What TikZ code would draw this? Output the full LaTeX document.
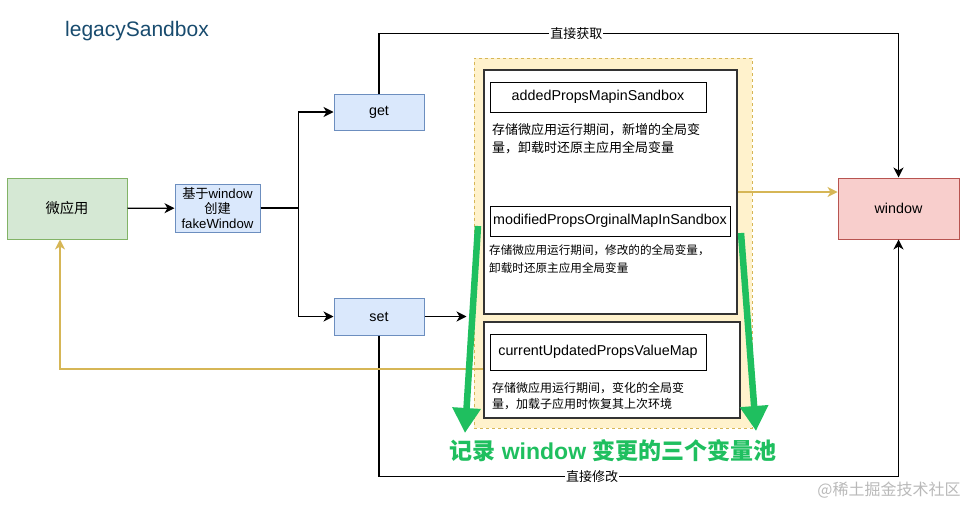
\documentclass[tikz,border=0pt]{standalone}
\usepackage{fontspec}
\setmainfont{Liberation Sans}
\newfontfamily\cjk{Noto Sans CJK SC}
\usepackage{tikz}
\usetikzlibrary{arrows.meta, positioning, calc}
\usepackage{xcolor}
\definecolor{greenfill}{HTML}{D5E8D4}
\definecolor{greenline}{HTML}{82B366}
\definecolor{bluefill}{HTML}{DAE8FC}
\definecolor{blueline}{HTML}{6C8EBF}
\definecolor{redfill}{HTML}{F8CECC}
\definecolor{redline}{HTML}{B85450}
\definecolor{yellowfill}{HTML}{FFF2CC}
\definecolor{yellowline}{HTML}{D6B656}
\definecolor{poolgreen}{HTML}{1FBF5F}
\definecolor{titleblue}{HTML}{184B6E}

\begin{document}
\begin{tikzpicture}[x=1pt, y=-1pt,
    base/.style={rectangle, draw, inner sep=0pt, align=center, font=\fontsize{14.3}{16}\selectfont, line width=1pt},
    app/.style={base, fill=greenfill, draw=greenline, minimum width=120pt, minimum height=61pt},
    op/.style={base, fill=bluefill, draw=blueline, minimum width=90pt, minimum height=36pt},
    win/.style={base, fill=redfill, draw=redline, minimum width=121pt, minimum height=61pt},
    pool/.style={base, fill=yellowfill, draw=yellowline, dashed, minimum width=278pt, minimum height=370pt},
    panel/.style={base, fill=white, draw=black!80, line width=1.2pt},
    mapbox/.style={base, fill=white, draw=black, minimum height=30pt},
    note/.style={inner sep=0pt, align=left, anchor=north west},
    flow/.style={draw, line width=1.2pt, -{Stealth[length=10pt, width=10pt, inset=3pt]}},
    gold/.style={draw=yellowline, line width=1.2pt, -{Stealth[length=10pt, width=10pt, inset=3pt]}},
    poolarrow/.style={draw=poolgreen, line width=6.5pt, -{Triangle[length=25pt, width=27pt]}},
    edgelabel/.style={fill=white, inner sep=1pt, font=\cjk\fontsize{13}{15}\selectfont}
]
    \useasboundingbox (0,0) rectangle (974,506);

    % Nodes
    \node[text=titleblue, font=\fontsize{21}{24}\selectfont] (title) at (137,31) {legacySandbox};
    \node[app] (micro) at (67,208.5) {{\cjk 微应用}};
    \node[op, minimum width=85pt, minimum height=48pt, font=\fontsize{13.2}{15}\selectfont] (fake) at (217.5,208) {{\cjk 基于}window\\{\cjk 创建}\\fakeWindow};
    \node[op] (get) at (379,112) {get};
    \node[op, minimum height=37pt] (set) at (379,316.5) {set};
    \node[win] (window) at (898.5,208.5) {window};

    \node[pool] (pool) at (613,243) {};
    \node[panel, minimum width=253pt, minimum height=244pt] (panelA) at (610.5,192) {};
    \node[panel, minimum width=256pt, minimum height=96pt] (panelB) at (612,370) {};

    \node[mapbox, minimum width=216pt] (added) at (598,97) {addedPropsMapinSandbox};
    \node[note, font=\cjk\fontsize{13}{18}\selectfont] (addednote) at (492,123) {存储微应用运行期间，新增的全局变\\量，卸载时还原主应用全局变量};
    \node[mapbox, minimum width=240pt] (modified) at (610,221) {modifiedPropsOrginalMapInSandbox};
    \node[note, font=\cjk\fontsize{11.6}{18}\selectfont] (modifiednote) at (489,244.5) {存储微应用运行期间，修改的的全局变量，\\卸载时还原主应用全局变量};
    \node[mapbox, minimum width=216pt, minimum height=36pt] (current) at (598,352) {currentUpdatedPropsValueMap};
    \node[note, font=\cjk\fontsize{12}{15.5}\selectfont] (currentnote) at (492,382.5) {存储微应用运行期间，变化的全局变\\量，加载子应用时恢复其上次环境};

    \node[text=poolgreen, font=\bfseries\fontsize{23}{26}\selectfont] (caption) at (613,451) {{\cjk 记录} window {\cjk 变更的三个变量池}};
    \node[text=gray!55, font=\cjk\fontsize{16}{18}\selectfont] (juejin) at (889,490) {@稀土掘金技术社区};

    \coordinate (leftstart) at (478,226);
    \coordinate (lefttip) at (465,433);
    \coordinate (rightstart) at (741,233);
    \coordinate (righttip) at (756,431);

    % Connectors
    \draw[flow] (micro) -- (fake);
    \draw[flow] (fake.east) -- ++(38,0) |- (get);
    \draw[flow] (fake.east) -- ++(38,0) |- (set);
    \draw[flow, shorten >=7pt] (set) -- (pool.west |- set);
    \draw[flow] (get.north) -- ++(0,-60) -| node[pos=0.19, edgelabel] {直接获取} (window.north);
    \draw[flow] (set.south) -- ++(0,141) -| node[pos=0.205, edgelabel] {直接修改} (window.south);
    \draw[gold] (panelA.east) -- (panelA.east -| window.west);
    \draw[gold] ([yshift=1pt]panelB.west) -| ([xshift=-7pt]micro.south);
    \draw[poolarrow] (leftstart) -- (lefttip);
    \draw[poolarrow] (rightstart) -- (righttip);
\end{tikzpicture}
\end{document}
